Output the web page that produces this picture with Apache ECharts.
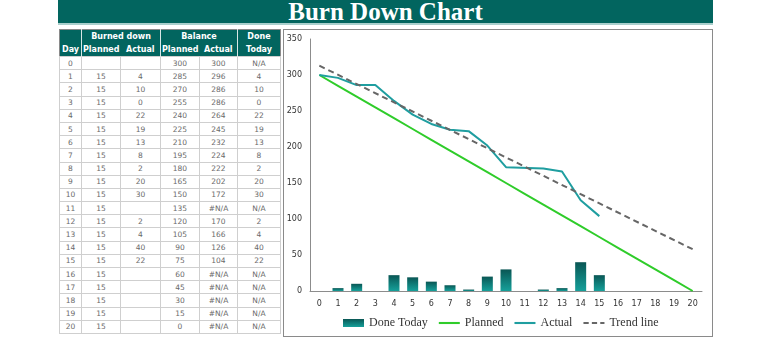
<!DOCTYPE html>
<html>
<head>
<meta charset="utf-8">
<script src="https://cdn.jsdelivr.net/npm/echarts@6/dist/echarts.min.js"></script>
<style>
  html, body { margin: 0; padding: 0; background: #fff; width: 768px; height: 338px; overflow: hidden; }
  #title { position: absolute; left: 58px; top: 0; width: 655px; height: 23px; background: #02655f;
           border-bottom: 2px solid #a9cfcc; color: #fff; text-align: center;
           font: bold 25px/23px "Liberation Serif", "DejaVu Serif", serif; }
  #tbl { position: absolute; left: 59px; top: 29px; border-collapse: collapse; table-layout: fixed;
         border: 1px solid #8a8a8a; }
  #tbl td { padding: 0; text-align: center; white-space: nowrap; overflow: hidden; }
  #tbl tr.h td { background: #02655f; color: #fff; font: bold 8px "DejaVu Sans", sans-serif; height: 13px; }
  #tbl tr.h td.sep { border-left: 1px solid #d8e6e5; }
  #tbl tr.d td { color: #6a6a6a; font: 7.5px "DejaVu Sans", sans-serif; height: 12.2px; border: 1px solid #cfcfcf; }
  #frame { position: absolute; left: 283px; top: 29px; width: 428px; height: 306px; border: 1px solid #8a8a8a; }
  #chart { position: absolute; left: 0; top: 0; width: 768px; height: 338px; }
</style>
</head>
<body>
<div id="title">Burn Down Chart</div>
<table id="tbl"></table>
<div id="frame"></div>
<div id="chart"></div>
<script>
// ---- data ----
const days = [0,1,2,3,4,5,6,7,8,9,10,11,12,13,14,15,16,17,18,19,20];
const burnedPlanned = [null,15,15,15,15,15,15,15,15,15,15,15,15,15,15,15,15,15,15,15,15];
const burnedActual  = [null,4,10,0,22,19,13,8,2,20,30,null,2,4,40,22,null,null,null,null,null];
const balancePlanned = [300,285,270,255,240,225,210,195,180,165,150,135,120,105,90,75,60,45,30,15,0];
const balanceActual  = [300,296,286,286,264,245,232,224,222,202,172,null,170,166,126,104,null,null,null,null,null];
const doneToday      = [null,4,10,0,22,19,13,8,2,20,30,null,2,4,40,22,null,null,null,null,null];
const trendLine      = [313,null,null,null,null,null,null,null,null,null,null,null,null,null,null,null,null,null,null,null,58];
const yTicks = [0,50,100,150,200,250,300,350];

// ---- table ----
const colW = [22,39,40,39,38,43];
const tbl = document.getElementById('tbl');
let html = '<colgroup>' + colW.map(w => '<col style="width:' + w + 'px">').join('') + '</colgroup>';
html += '<tr class="h"><td></td><td class="sep" colspan="2">Burned down</td><td class="sep" colspan="2">Balance</td><td class="sep">Done</td></tr>';
html += '<tr class="h"><td>Day</td><td class="sep">Planned</td><td>Actual</td><td class="sep">Planned</td><td>Actual</td><td class="sep">Today</td></tr>';
for (let i = 0; i < days.length; i++) {
  const f = (v, na) => v === null ? na : String(v);
  html += '<tr class="d"><td>' + days[i] + '</td><td>' + f(burnedPlanned[i], '') + '</td><td>' +
    f(burnedActual[i], '') + '</td><td>' + balancePlanned[i] + '</td><td>' +
    f(balanceActual[i], '#N/A') + '</td><td>' + f(doneToday[i], 'N/A') + '</td></tr>';
}
tbl.innerHTML = html;

// ---- chart ----
const chart = echarts.init(document.getElementById('chart'), null, { renderer: 'canvas' });
const axisFont = { fontFamily: 'DejaVu Sans, sans-serif', fontSize: 8, color: '#333' };
const solidIcon = 'path://M0,0h20v2h-20z';
const dashIcon = 'path://M0,0h5v2h-5zM8,0h5v2h-5zM16,0h4v2h-4z';
chart.setOption({
  animation: false,
  backgroundColor: 'transparent',
  grid: { left: 310, right: 66, top: 39, bottom: 47, containLabel: false },
  legend: {
    left: 338, top: 312, itemGap: 11, itemWidth: 21, itemHeight: 8,
    textStyle: { fontFamily: 'Liberation Serif, DejaVu Serif, serif', fontSize: 12, color: '#333' },
    data: [
      { name: 'Done Today', icon: 'rect' },
      { name: 'Planned', icon: solidIcon },
      { name: 'Actual', icon: solidIcon },
      { name: 'Trend line', icon: dashIcon }
    ]
  },
  xAxis: {
    type: 'category', data: days.map(String), boundaryGap: true,
    axisLine: { lineStyle: { color: '#8c8c8c', width: 1 } },
    axisTick: { show: false },
    axisLabel: Object.assign({ margin: 9, interval: 0 }, axisFont),
    splitLine: { show: false }
  },
  yAxis: {
    type: 'value', min: yTicks[0], max: yTicks[yTicks.length - 1], interval: 50,
    axisLine: { show: true, lineStyle: { color: '#8c8c8c', width: 1 } },
    axisTick: { show: false },
    axisLabel: Object.assign({ margin: 8 }, axisFont),
    splitLine: { show: false }
  },
  series: [
    {
      name: 'Done Today', type: 'bar', data: doneToday, barWidth: 11,
      itemStyle: {
        color: new echarts.graphic.LinearGradient(0, 0, 0, 1, [
          { offset: 0, color: '#0a5654' }, { offset: 0.5, color: '#0f7c78' }, { offset: 1, color: '#16a09a' }
        ])
      }
    },
    {
      name: 'Planned', type: 'line', data: balancePlanned, symbol: 'none',
      lineStyle: { color: '#2fcc2a', width: 2 }, itemStyle: { color: '#2fcc2a' }
    },
    {
      name: 'Actual', type: 'line', data: balanceActual, symbol: 'none', connectNulls: true,
      lineStyle: { color: '#1f9ea0', width: 2 }, itemStyle: { color: '#1f9ea0' }
    },
    {
      name: 'Trend line', type: 'line', data: trendLine, symbol: 'none', connectNulls: true,
      lineStyle: { color: '#666', width: 2, type: [6, 4] }, itemStyle: { color: '#666' }
    }
  ]
});
</script>
</body>
</html>
